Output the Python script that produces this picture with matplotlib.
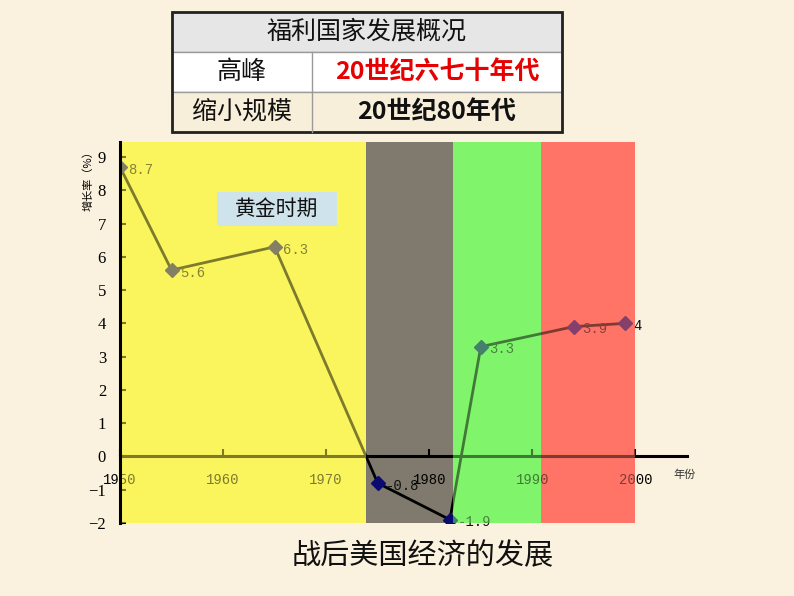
import matplotlib
matplotlib.use("Agg")
import matplotlib.pyplot as plt
from matplotlib.patches import Rectangle

plt.rcParams['font.family'] = ['Noto Sans CJK SC', 'DejaVu Sans']

# ---- data ----
years = [1950, 1955, 1965, 1975, 1982, 1985, 1994, 1999]
growth = [8.7, 5.6, 6.3, -0.8, -1.9, 3.3, 3.9, 4]
band_starts = [1950, 1973.9, 1982.3, 1990.8]
band_ends = [1973.9, 1982.3, 1990.8, 2000]
band_colors = ['#FAF55C', '#807A6E', '#80F56C', '#FF7466']
band_overlay = [True, False, True, True]
xticks = [1950, 1960, 1970, 1980, 1990, 2000]
yticks = [-2, -1, 0, 1, 2, 3, 4, 5, 6, 7, 8, 9]
title = "战后美国经济的发展"
ylabel = "增长率（%）"
xlabel = "年份"
golden_label = "黄金时期"
table_header = "福利国家发展概况"
table_left = ["高峰", "缩小规模"]
table_right = ["20世纪六七十年代", "20世纪80年代"]
table_right_colors = ['#E60000', '#111111']

W, H = 794, 596
BG = '#FAF2DE'
fig = plt.figure(figsize=(W / 100, H / 100), dpi=100, facecolor=BG)


def fx(px):
    return px / W


def fy(py):
    return 1 - py / H


ax = fig.add_axes([fx(120), fy(523), fx(687) - fx(120), fy(142) - fy(523)])
ax.set_facecolor('none')
ax.set_xlim(1950, 2005)
ax.set_ylim(-2, 9.45)

# bands (opaque, behind)
for s, e, c in zip(band_starts, band_ends, band_colors):
    ax.axvspan(s, e, color=c, zorder=0.5, lw=0)

# line + markers
ax.plot(years, growth, color='black', lw=2.0, zorder=2)
ax.plot(years, growth, ls='none', marker='D', ms=7, color='#0A0A70', zorder=2.2)
for x, v in zip(years, growth):
    ax.annotate(f"{v:g}", (x, v), xytext=(6, -2), textcoords='offset points',
                va='center', ha='left', fontsize=10, family='Liberation Mono',
                color='#101010', zorder=2.3)

# translucent overlays tint line, markers, labels
for s, e, c, o in zip(band_starts, band_ends, band_colors, band_overlay):
    if o:
        ax.axvspan(s, e, color=c, alpha=0.5, zorder=4, lw=0)

# spines
for sp in ['top', 'right']:
    ax.spines[sp].set_visible(False)
ax.spines['bottom'].set_position(('data', 0))
ax.spines['bottom'].set_linewidth(2.2)
ax.spines['bottom'].set_color('black')
ax.spines['left'].set_linewidth(2.2)
ax.spines['left'].set_zorder(5)

ax.set_xticks(xticks)
ax.set_xticklabels([str(t) for t in xticks], family='Liberation Mono', fontsize=10)
ax.tick_params(axis='x', direction='in', length=5, width=1.5, pad=12)
ax.set_yticks(yticks)
ax.set_yticklabels([("−" + str(-t)) if t < 0 else str(t) for t in yticks],
                   family='Liberation Serif', fontsize=12)
ax.tick_params(axis='y', direction='in', length=4, width=1.5, pad=10)

# axis labels
fig.text(fx(88), fy(178), ylabel, rotation=90, ha='center', va='center', fontsize=8)
fig.text(fx(685), fy(475), xlabel, ha='center', va='center', fontsize=8, color='#333333')

# golden era box
fig.add_artist(Rectangle((fx(217), fy(226)), fx(337) - fx(217), fy(192) - fy(226),
                         transform=fig.transFigure, facecolor='#CFE3EC', edgecolor='none'))
fig.text(fx(277), fy(209), golden_label, ha='center', va='center', fontsize=15, color='#111111')

# table
tx0, tx1, tcol = 172, 562, 312
ty = [12, 52, 92, 132]
row_bg = ['#E6E6E6', '#FFFFFF', '#F8EFDA']
for i in range(3):
    fig.add_artist(Rectangle((fx(tx0), fy(ty[i + 1])), fx(tx1) - fx(tx0), fy(ty[i]) - fy(ty[i + 1]),
                             transform=fig.transFigure, facecolor=row_bg[i],
                             edgecolor='#9A9A9A', lw=1.0))
fig.add_artist(plt.Line2D([fx(tcol), fx(tcol)], [fy(ty[1]), fy(ty[3])],
                          transform=fig.transFigure, color='#9A9A9A', lw=1.0))
fig.add_artist(Rectangle((fx(tx0), fy(ty[3])), fx(tx1) - fx(tx0), fy(ty[0]) - fy(ty[3]),
                         transform=fig.transFigure, facecolor='none', edgecolor='#222222', lw=2.0))
fig.text(fx((tx0 + tx1) / 2), fy((ty[0] + ty[1]) / 2), table_header,
         ha='center', va='center', fontsize=18, color='#111111')
for i in range(2):
    yc = fy((ty[i + 1] + ty[i + 2]) / 2)
    fig.text(fx((tx0 + tcol) / 2), yc, table_left[i], ha='center', va='center',
             fontsize=18, color='#111111')
    fig.text(fx((tcol + tx1) / 2), yc, table_right[i], ha='center', va='center',
             fontsize=18, color=table_right_colors[i], weight='bold')

# bottom title
fig.text(fx(423), fy(556), title, ha='center', va='center', fontsize=21, color='#111111')

fig.savefig('out.png', dpi=100, facecolor=BG)
